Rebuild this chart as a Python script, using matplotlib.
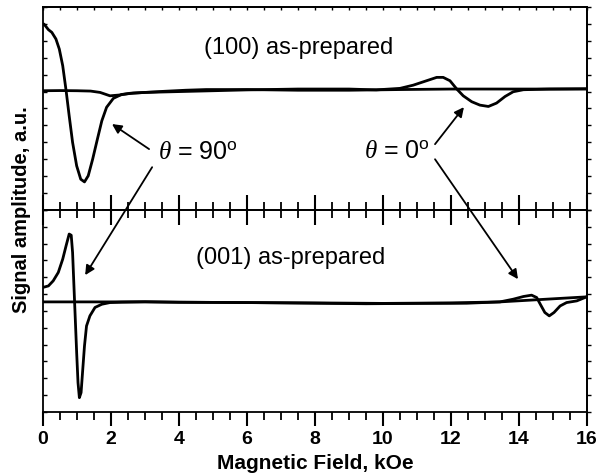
import matplotlib
matplotlib.use('Agg')
import matplotlib.pyplot as plt
from matplotlib.ticker import MultipleLocator, NullFormatter

plt.rcParams['font.family'] = ['Liberation Sans', 'DejaVu Sans']
plt.rcParams['mathtext.fontset'] = 'custom'
plt.rcParams['mathtext.rm'] = 'Liberation Sans'
plt.rcParams['mathtext.it'] = 'Liberation Serif:italic'

# ---- data (field in kOe, signal in arbitrary units) ----
# (100) as-prepared, theta = 90 deg
top90_x = [0.0, 0.03, 0.16, 0.26, 0.38, 0.48, 0.58, 0.68, 0.77, 0.87, 0.99, 1.11, 1.22,
           1.33, 1.46, 1.60, 1.73, 1.87, 2.07, 2.31, 2.66, 3.0, 3.6, 4.2, 4.8, 6.0, 7.5,
           9.0, 10.5, 12.0, 13.5, 15.0, 16.0]
top90_y = [11.0, 10.99, 10.66, 10.50, 10.11, 9.51, 8.53, 7.05, 5.57, 4.00, 2.61, 1.82, 1.66,
           2.02, 3.00, 4.19, 5.27, 6.07, 6.60, 6.83, 6.91, 6.95, 7.02, 7.08, 7.12, 7.12, 7.08,
           7.08, 7.12, 7.15, 7.15, 7.15, 7.16]
# (100) as-prepared, theta = 0 deg
top0_x = [0.0, 0.5, 1.0, 1.4, 1.68, 1.97, 2.26, 2.56, 3.0, 4.0, 5.0, 6.0, 7.5, 9.0, 9.8,
          10.5, 10.89, 11.28, 11.58, 11.77, 11.97, 12.17, 12.36, 12.61, 12.85, 13.1, 13.34,
          13.59, 13.83, 14.13, 14.9, 16.0]
top0_y = [7.05, 7.06, 7.05, 7.03, 6.95, 6.75, 6.80, 6.90, 6.95, 7.0, 7.05, 7.10, 7.15, 7.15, 7.10,
          7.19, 7.38, 7.64, 7.84, 7.84, 7.64, 7.15, 6.75, 6.40, 6.20, 6.12, 6.32,
          6.71, 6.99, 7.11, 7.15, 7.16]
# (001) as-prepared, theta = 90 deg
bot90_x = [0.0, 0.16, 0.30, 0.45, 0.58, 0.68, 0.77, 0.83, 0.87, 0.91, 0.95, 0.99, 1.03, 1.07,
           1.12, 1.17, 1.22, 1.28, 1.38, 1.53, 1.73, 1.97, 2.32, 3.0, 4.0, 6.0, 8.0, 10.0,
           12.0, 13.44, 16.0]
bot90_y = [7.40, 7.49, 7.79, 8.29, 9.08, 9.88, 10.57, 10.50, 9.48, 7.49, 5.51, 3.53, 1.74, 0.85,
           1.15, 2.54, 3.92, 5.11, 5.71, 6.21, 6.40, 6.50, 6.52, 6.54, 6.52, 6.50, 6.48, 6.45,
           6.48, 6.54, 6.84]
# (001) as-prepared, theta = 0 deg
bot0_x = [0.0, 1.0, 2.0, 3.0, 4.0, 6.0, 8.0, 9.5, 11.0, 12.46, 13.44, 13.83, 14.13, 14.37,
          14.52, 14.64, 14.76, 14.89, 15.03, 15.21, 15.40, 15.70, 15.99]
bot0_y = [6.54, 6.54, 6.54, 6.55, 6.52, 6.50, 6.46, 6.43, 6.45, 6.46, 6.54, 6.70, 6.86, 6.94,
          6.80, 6.35, 5.91, 5.71, 5.91, 6.30, 6.50, 6.60, 6.84]

fig = plt.figure(figsize=(5.98, 4.77), dpi=100)
ax1 = fig.add_axes([0.0719, 0.5577, 0.9097, 0.4255])
ax2 = fig.add_axes([0.0719, 0.1342, 0.9097, 0.4235])
ax2.patch.set_visible(False)

ax1.plot(top90_x, top90_y, color='black', lw=2.0)
ax1.plot(top0_x, top0_y, color='black', lw=2.0)
ax2.plot(bot90_x, bot90_y, color='black', lw=2.0)
ax2.plot(bot0_x, bot0_y, color='black', lw=2.0)

for ax in (ax1, ax2):
    ax.set_xlim(0, 16)
    ax.set_ylim(0, 12)
    ax.xaxis.set_major_locator(MultipleLocator(2))
    ax.xaxis.set_minor_locator(MultipleLocator(0.5))
    ax.yaxis.set_major_locator(MultipleLocator(1))
    ax.yaxis.set_major_formatter(NullFormatter())
    ax.tick_params(axis='y', which='both', left=True, right=False, direction='in',
                   length=3, width=1.0, labelleft=False)
    for s in ax.spines.values():
        s.set_linewidth(1.3)
    # right side ticks point outward
    sec = ax.secondary_yaxis('right')
    sec.yaxis.set_major_locator(MultipleLocator(1))
    sec.yaxis.set_major_formatter(NullFormatter())
    sec.tick_params(direction='out', length=3, width=1.0)
    sec.spines['right'].set_linewidth(1.3)

ax1.tick_params(axis='x', which='both', bottom=True, top=False, labelbottom=False)
ax1.tick_params(axis='x', which='major', direction='inout', length=22, width=1.5)
ax1.tick_params(axis='x', which='minor', direction='inout', length=12, width=1.3)
ax1_top = ax1.secondary_xaxis('top')
ax1_top.xaxis.set_major_locator(MultipleLocator(0.5))
ax1_top.xaxis.set_major_formatter(NullFormatter())
ax1_top.tick_params(direction='in', length=2.5, width=1.0)
ax1_top.spines['top'].set_linewidth(1.3)

ax2.tick_params(axis='x', which='both', bottom=True, top=False, direction='out')
ax2.tick_params(axis='x', which='major', length=10, width=1.5, labelsize=14, pad=3)
ax2.tick_params(axis='x', which='minor', length=6, width=1.3)
for lab in ax2.get_xticklabels():
    lab.set_fontweight('bold')

ax2.set_xlabel('Magnetic Field, kOe', fontsize=15, fontweight='bold', labelpad=4)
fig.text(22 / 598, 1 - 210 / 477, 'Signal amplitude, a.u.', rotation=90,
         ha='center', va='center', fontsize=14.5, fontweight='bold')

ax1.text(7.53, 9.63, '(100) as-prepared', fontsize=17, ha='center', va='center')
ax2.text(7.29, 9.2, '(001) as-prepared', fontsize=17, ha='center', va='center')
ax1.text(4.56, 3.42, r'$\theta$ = 90$^{\rm o}$', fontsize=18, ha='center', va='center')
ax1.text(10.41, 3.48, r'$\theta$ = 0$^{\rm o}$', fontsize=18, ha='center', va='center')

arrow = dict(arrowstyle='-|>', color='black', lw=1.3, mutation_scale=14, shrinkA=0, shrinkB=0)
ax1.annotate('', xy=(2.03, 5.08), xytext=(3.12, 3.6), arrowprops=arrow)
ax2.annotate('', xy=(1.24, 8.13), xytext=(3.21, 2.53), textcoords=ax1.transData,
             arrowprops=arrow, annotation_clip=False)
ax1.annotate('', xy=(12.38, 6.08), xytext=(11.53, 3.89), arrowprops=arrow)
ax2.annotate('', xy=(13.97, 7.89), xytext=(11.53, 3.0), textcoords=ax1.transData,
             arrowprops=arrow, annotation_clip=False)

fig.savefig('out.png', dpi=100)
